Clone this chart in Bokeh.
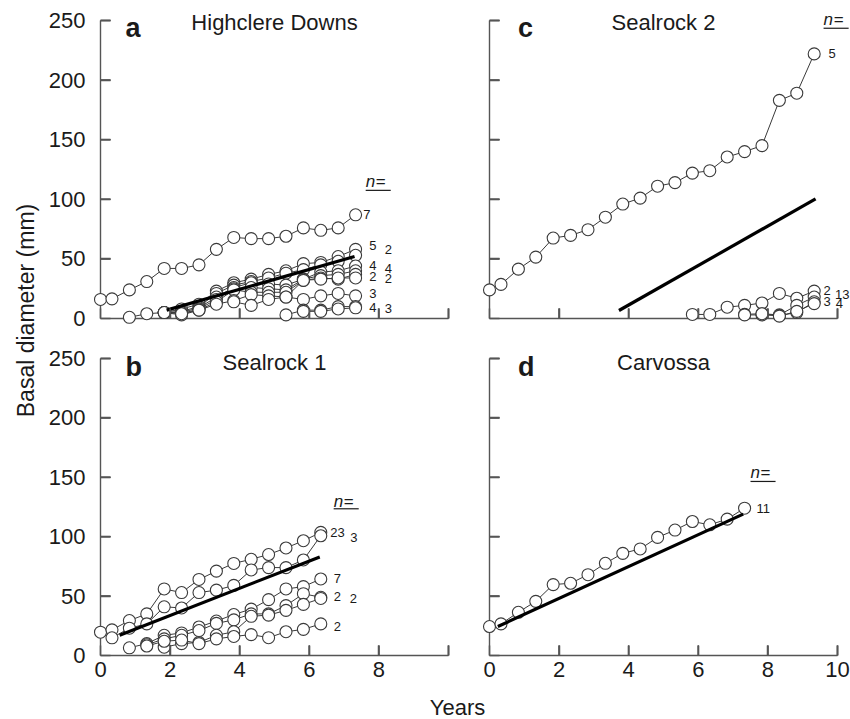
import math
from bokeh.plotting import figure
from bokeh.models import ColumnDataSource, Label, LabelSet, FixedTicker, Range1d
from bokeh.layouts import row, column
from bokeh.core.properties import value
from bokeh.embed import file_html
from bokeh.resources import INLINE

FONT = "Liberation Sans"
N = None

# ---------------- data ----------------
years_a = [0, 0.33, 0.83, 1.33, 1.83, 2.33, 2.83, 3.33, 3.83, 4.33, 4.83, 5.33, 5.83, 6.33, 6.83, 7.33]
diam_a = [
    [16, 16.5, 24, 31, 42, 42, 45, 58, 68, 67, 67, 69, 76, 74, 76, 87],
    [N, N, 1, 4, 5, 8, 12, 23, 30, 33, 37, 40, 46, 47, 52, 58],
    [N, N, N, N, 5, 6, 10, 21, 28, 31, 34, 38, 41, 45, 48, 53],
    [N, N, N, N, 5, 5, 9, 18, 26, 30, 29, 28, 33, 39, 40, 44],
    [N, N, N, N, 5, 4, 8, 16, 25, 26, 25, 24, 33, 36, 37, 40],
    [N, N, N, N, 5, 3, 7, 14, 24, 22, 22, 22, 32, 34, 33, 37],
    [N, N, N, N, N, 4, 7, 12, 15, 20, 19, 18, 32, 33, 34, 34],
    [N, N, N, N, N, N, N, N, 14, 11, 16, 18, 16, 19, 21, 19],
    [N, N, N, N, N, N, N, N, N, N, N, 3, 7, 7, 10, 10],
    [N, N, N, N, N, N, N, N, N, N, N, N, 6, 6, 8, 9],
]
n_a = ["7", "5", "2", "4", "4", "2", "2", "3", "4", "3"]
fit_a_years = [1.9, 7.3]
fit_a_diam = [7, 52]

years_b = [0, 0.33, 0.83, 1.33, 1.83, 2.33, 2.83, 3.33, 3.83, 4.33, 4.83, 5.33, 5.83, 6.33]
diam_b = [
    [19.6, 21.6, 29.4, 35, 56, 53, 64, 71, 77.5, 81, 85, 90.5, 96.6, 103.6],
    [N, 14.9, 23, 26.6, 41, 40, 53, 55, 59, 72, 74, 74, 80.4, 100.8],
    [N, N, 6.5, 10, 17, 19, 24, 29, 34.5, 39, 47, 56, 58, 64.4],
    [N, N, N, 9, 14, 17, 21, 27, 30, 35, 35, 42, 52, 49],
    [N, N, N, N, 7, 10, 11, 17, 20, 33, 34, 38, 43, 48],
    [N, N, N, 8, 12, 13, 10, 14, 16, 17.6, 15, 20, 22, 26.6],
]
n_b = ["23", "3", "7", "2", "2", "2"]
fit_b_years = [0.55, 6.3]
fit_b_diam = [17, 83]

years_c = [0, 0.33, 0.83, 1.33, 1.83, 2.33, 2.83, 3.33, 3.83, 4.33,
           4.83, 5.33, 5.83, 6.33, 6.83, 7.33, 7.83, 8.33, 8.83, 9.33]
diam_c = [
    [24, 28.6, 41.4, 51.5, 67.5, 69.7, 74.5, 85, 96, 101, 111, 114, 122, 124, 135.5, 140, 145, 183, 189, 222],
    [N, N, N, N, N, N, N, N, N, N, N, N, 3.4, 3.4, 9.5, 11, 13, 21, 17, 23],
    [N, N, N, N, N, N, N, N, N, N, N, N, N, N, N, 3.5, 4, 3, 11, 18],
    [N, N, N, N, N, N, N, N, N, N, N, N, N, N, N, 3, 3, 2.5, 5, 14],
    [N, N, N, N, N, N, N, N, N, N, N, N, N, N, N, N, 4, 2, 6, 12.5],
]
n_c = ["5", "2", "13", "3", "4"]
fit_c_years = [3.72, 9.37]
fit_c_diam = [6.7, 100.3]

years_d = [0, 0.33, 0.83, 1.33, 1.83, 2.33, 2.83, 3.33, 3.83, 4.33, 4.83, 5.33, 5.83, 6.33, 6.83, 7.33]
diam_d = [
    [24.4, 26.6, 36.4, 45.6, 59.7, 60.8, 68, 77.6, 86, 89.7, 99.4, 105.6, 112.8, 110, 114.8, 124],
]
n_d = ["11"]
fit_d_years = [0.24, 7.29]
fit_d_diam = [24.4, 119]

x_ticks = [0, 2, 4, 6, 8, 10]
y_ticks = [0, 50, 100, 150, 200, 250]

# ---------------- layout / label positions ----------------
lab_a_x = [7.55, 7.72, 8.17, 7.72, 8.17, 7.72, 8.17, 7.72, 7.72, 8.17]
lab_a_y = [87, 61, 58, 44.5, 42, 35.5, 33.5, 21, 9.5, 8.5]
lab_b_x = [6.6, 7.18, 6.7, 6.7, 7.16, 6.7]
lab_b_y = [103.5, 99.5, 65, 49.5, 48, 24.5]
lab_c_x = [9.74, 9.6, 9.93, 9.6, 9.95]
lab_c_y = [222, 23.5, 20.5, 14, 12.5]
lab_d_x = [7.67]
lab_d_y = [124]

LINE_C = "#3a3a3a"
AX_C = "#555555"
TXT_C = "#1a1a1a"
SX = 34.8          # pixels per year
TICK_LEN = 10
TICK_W = 1.5


def style_axis(ax, ticks, show_labels, hidden=()):
    ax.ticker = FixedTicker(ticks=ticks)
    ax.bounds = (ticks[0], ticks[-1])
    ax.minor_tick_line_color = None
    ax.major_tick_in = TICK_LEN
    ax.major_tick_out = 0
    ax.major_tick_line_color = AX_C
    ax.major_tick_line_width = TICK_W
    ax.axis_line_color = AX_C
    ax.axis_line_width = 1.4
    ax.major_label_text_font = FONT
    ax.major_label_text_color = TXT_C
    if show_labels:
        ax.major_label_text_font_size = "22px"
        if hidden:
            ax.major_label_overrides = {t: "" for t in hidden}
    else:
        ax.major_label_text_font_size = "1px"
        ax.major_label_standoff = 0
        ax.major_label_overrides = {t: "" for t in ticks}


def panel(width, height, borders, sy, years, series, ns, lab_x, lab_y, fit_x, fit_y,
          letter, letter_y, title, nlab, show_x, show_y, left_col):
    top, right, bottom, left = borders
    x_end = (width - left - right) / SX
    y_end = (height - top - bottom) / sy
    p = figure(width=width, height=height, x_range=Range1d(0, x_end), y_range=Range1d(0, y_end),
               output_backend="svg", toolbar_location=None,
               min_border_top=top, min_border_right=right,
               min_border_bottom=bottom, min_border_left=left)
    p.grid.visible = False
    p.outline_line_color = None
    p.background_fill_color = "white"
    style_axis(p.xaxis[0], x_ticks, show_x, hidden=(10,) if left_col else ())
    p.xaxis[0].major_label_standoff = 6 if show_x else 0
    style_axis(p.yaxis[0], y_ticks, show_y)
    if show_y:
        p.yaxis[0].major_label_standoff = 15

    # inward tick marks as glyph lines
    dy = TICK_LEN / sy
    dx = TICK_LEN / SX
    xt = [t for t in x_ticks if t > 0]
    yt = [t for t in y_ticks if t > 0]
    p.multi_line(xs=[[t, t] for t in xt] + [[0, dx] for t in yt],
                 ys=[[0, dy] for t in xt] + [[t, t] for t in yt],
                 line_color=AX_C, line_width=TICK_W)

    for s in series:
        xs = [x for x, v in zip(years, s) if v is not None]
        ys = [v for v in s if v is not None]
        r = p.line(xs, ys, line_color=LINE_C, line_width=1)
        r.level = "overlay"
        c = p.scatter(xs, ys, marker="circle", size=12, fill_color="white",
                      line_color=LINE_C, line_width=1.1)
        c.level = "overlay"

    fr = p.line(fit_x, fit_y, line_color="black", line_width=3.2)
    fr.level = "overlay"

    hw_x = TICK_W / 2 / SX
    hw_y = TICK_W / 2 / sy
    qx = p.quad(left=[t - hw_x for t in xt], right=[t + hw_x for t in xt],
                bottom=[0] * len(xt), top=[dy] * len(xt),
                fill_color=AX_C, line_color=None)
    qx.level = "overlay"
    qy = p.quad(left=[0] * len(yt), right=[dx] * len(yt),
                bottom=[t - hw_y for t in yt], top=[t + hw_y for t in yt],
                fill_color=AX_C, line_color=None)
    qy.level = "overlay"

    src = ColumnDataSource(dict(x=lab_x, y=lab_y, t=ns))
    p.add_layout(LabelSet(x="x", y="y", text="t", source=src, text_font=value(FONT),
                          text_font_size=value("13px"), text_color=value(TXT_C),
                          text_baseline="middle", text_align="left"))

    lx = 0.72 if left_col else 0.82
    p.add_layout(Label(x=lx, y=letter_y, text=letter, text_font=FONT,
                       text_font_size="27px", text_font_style="bold",
                       text_color=TXT_C, text_baseline="alphabetic"))
    p.add_layout(Label(x=5.0, y=letter_y + 4, text=title, text_font=FONT,
                       text_font_size="22px", text_color=TXT_C,
                       text_align="center", text_baseline="alphabetic"))

    nx, ny, uy = nlab
    p.add_layout(Label(x=nx, y=ny, text="n", text_font=FONT, text_font_size="17px",
                       text_font_style="italic", text_color=TXT_C,
                       text_baseline="middle"))
    p.add_layout(Label(x=nx + 0.29, y=ny, text="=", text_font=FONT, text_font_size="17px",
                       text_color=TXT_C, text_baseline="middle"))
    u = p.segment(x0=[nx], y0=[uy], x1=[nx + 0.72], y1=[uy], line_color=TXT_C, line_width=1.2)
    u.level = "overlay"
    return p


SY_TOP = 298 / 250.0
SY_BOT = 297 / 250.0

pa = panel(423, 336, (4, 0, 18, 55), SY_TOP, years_a, diam_a, n_a, lab_a_x, lab_a_y,
           fit_a_years, fit_a_diam, "a", 244, "Highclere Downs", (7.62, 115, 107.5),
           False, True, True)
pc = panel(382, 336, (4, 0, 18, 21), SY_TOP, years_c, diam_c, n_c, lab_c_x, lab_c_y,
           fit_c_years, fit_c_diam, "c", 244, "Sealrock 2", (9.6, 250.5, 243.5),
           False, False, False)
pb = panel(423, 359, (4, 0, 40, 55), SY_BOT, years_b, diam_b, n_b, lab_b_x, lab_b_y,
           fit_b_years, fit_b_diam, "b", 243, "Sealrock 1", (6.7, 130, 123.5),
           True, True, True)
pd_ = panel(382, 359, (4, 0, 40, 21), SY_BOT, years_d, diam_d, n_d, lab_d_x, lab_d_y,
            fit_d_years, fit_d_diam, "d", 243, "Carvossa", (7.5, 154, 146.5),
            True, False, False)

# left strip with y-axis title
ls = figure(width=45, height=695, x_range=Range1d(0, 45), y_range=Range1d(0, 695),
            x_axis_type=None, y_axis_type=None, output_backend="svg", toolbar_location=None,
            min_border=0)
ls.grid.visible = False
ls.outline_line_color = None
ls.text(x=[25], y=[385], text=["Basal diameter (mm)"], angle=math.pi / 2,
        text_font=value(FONT), text_font_size="23px", text_color=TXT_C,
        text_align="center", text_baseline="middle")

# bottom strip with x-axis title
bs = figure(width=850, height=24, x_range=Range1d(0, 850), y_range=Range1d(0, 24),
            x_axis_type=None, y_axis_type=None, output_backend="svg", toolbar_location=None,
            min_border=0)
bs.grid.visible = False
bs.outline_line_color = None
bs.text(x=[457], y=[12], text=["Years"], text_font=value(FONT), text_font_size="22px",
        text_color=TXT_C, text_align="center", text_baseline="middle")

layout = column(row(ls, column(row(pa, pc, spacing=0), row(pb, pd_, spacing=0), spacing=0), spacing=0),
                bs, spacing=0)

open("out.html", "w").write(file_html(layout, INLINE))
